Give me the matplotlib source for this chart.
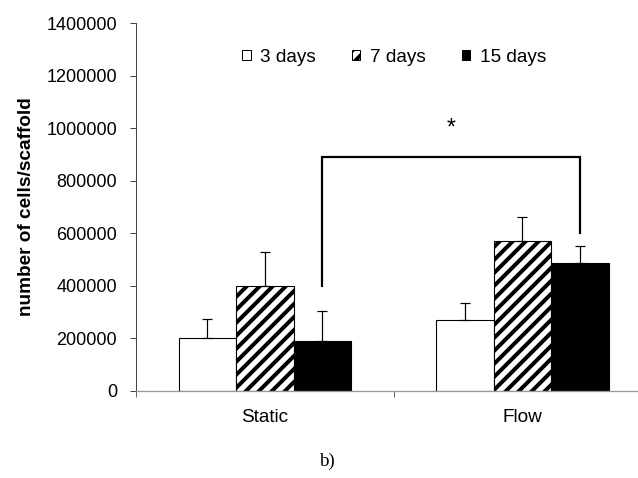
import numpy as np
import matplotlib
matplotlib.use("Agg")
import matplotlib.pyplot as plt
from matplotlib.patches import Patch

DPI = 78  # low dpi so the matplotlib hatch spacing matches the original stripes


def px(v):
    # pixel size -> points at this dpi
    return v * 72.0 / DPI


plt.rcParams['font.family'] = ['Liberation Sans', 'DejaVu Sans']
plt.rcParams['hatch.linewidth'] = px(4.0)

# data
groups = ['Static', 'Flow']
series = ['3 days', '7 days', '15 days']
means = {
    '3 days': [200000, 270000],
    '7 days': [400000, 570000],
    '15 days': [190000, 485000],
}
sds = {
    '3 days': [75000, 65000],
    '7 days': [130000, 90000],
    '15 days': [115000, 65000],
}
yticks = [0, 200000, 400000, 600000, 800000, 1000000, 1200000, 1400000]
# significance bracket: left foot, top, right foot
bracket_y = [400000, 890000, 600000]
star_y = 1000000

faces = {'3 days': 'white', '7 days': 'white', '15 days': 'black'}
hatches = {'3 days': None, '7 days': '//', '15 days': None}

fig = plt.figure(figsize=(638 / DPI, 478 / DPI), dpi=DPI)
ax = fig.add_axes([136 / 638, 1 - 390.7 / 478, 1 - 136 / 638, (390.7 - 23.2) / 478])

x = np.arange(len(groups))
w = 0.223
for i, s in enumerate(series):
    pos = x + (i - 1) * w
    ax.bar(pos, means[s], width=w, color=faces[s], edgecolor='black',
           hatch=hatches[s], linewidth=px(1.1), zorder=2)
    ax.errorbar(pos, means[s], yerr=[np.zeros(len(groups)), sds[s]], fmt='none',
                ecolor='black', elinewidth=px(1.2), capsize=px(5), capthick=px(1.2), zorder=3)

# bracket between the 15-day bars
xl = x[0] + w
xr = x[1] + w
ax.plot([xl, xl, xr, xr], [bracket_y[0], bracket_y[1], bracket_y[1], bracket_y[2]],
        color='black', linewidth=px(2.2), zorder=4, solid_joinstyle='miter')
ax.text((xl + xr) / 2, star_y, '*', ha='center', va='center', fontsize=px(23))

ax.set_yticks(yticks)
ax.set_yticklabels([str(t) for t in yticks], fontsize=px(18))
ax.tick_params(axis='y', direction='out', length=px(6), width=px(1), pad=px(13), color='#444')

ax.set_xticks(x)
ax.set_xticklabels(groups, fontsize=px(19))
ax.tick_params(axis='x', which='major', length=0, pad=px(18))
ax.set_xticks([-0.5, 0.5, 1.5], minor=True)
ax.tick_params(axis='x', which='minor', direction='out', length=px(6), width=px(1), color='#666')
ax.set_xlim(-0.5, 1.449)
ax.set_ylim(0, 1400000)

for sp in ['top', 'right']:
    ax.spines[sp].set_visible(False)
ax.spines['left'].set_color('#444')
ax.spines['left'].set_linewidth(px(1))
ax.spines['bottom'].set_color('#999')
ax.spines['bottom'].set_linewidth(px(1.3))

ax.set_ylabel('number of cells/scaffold', fontsize=px(19), fontweight='bold', labelpad=px(11))

handles = [Patch(facecolor=faces[s], edgecolor='black', hatch=hatches[s], linewidth=px(1))
           for s in series]
fig.legend(handles, series, loc='center', bbox_to_anchor=(394 / 638, 1 - 57 / 478),
           ncol=3, frameon=False, fontsize=px(19), handlelength=0.45, handleheight=0.45,
           handletextpad=0.5, columnspacing=1.9, borderpad=0)

fig.text(327 / 638, 1 - 461 / 478, 'b)', ha='center', va='center', fontsize=px(19),
         family=['Liberation Serif', 'DejaVu Serif'])

fig.savefig('out.png', dpi=DPI)
